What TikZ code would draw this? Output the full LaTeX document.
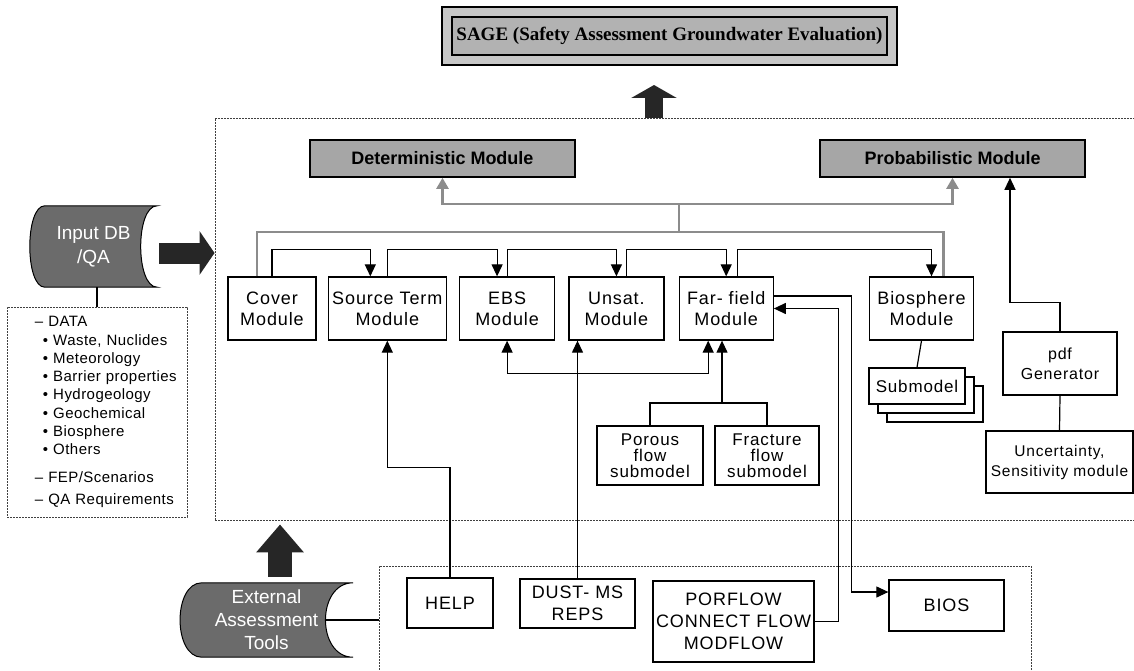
\documentclass[tikz,border=0pt]{standalone}
\usepackage{fontspec}
\setmainfont{Liberation Sans}
\newfontfamily\spaced[LetterSpace=5]{Liberation Sans}
\newfontfamily\listfont[LetterSpace=3]{Liberation Sans}
\newfontfamily\titlefont{Liberation Serif}
\usetikzlibrary{arrows.meta,positioning,fit,backgrounds,calc,shadows}

\tikzset{
  modbox/.style={rectangle, draw=black, line width=1.3pt, fill=white, inner sep=0pt,
                 minimum height=63pt, align=center, font=\spaced\fontsize{18}{21}\selectfont},
  subbox/.style={modbox, font=\spaced\fontsize{17}{16}\selectfont},
  toolbox/.style={modbox, font=\spaced\fontsize{18}{22}\selectfont},
  grybox/.style={rectangle, draw=black, line width=1.6pt, fill=black!35, inner sep=0pt,
                 minimum width=265pt, minimum height=37pt,
                 font=\bfseries\fontsize{18}{20}\selectfont},
  dotframe/.style={rectangle, draw=black!75, line width=0.9pt, dash pattern=on 2pt off 1pt},
  store/.style={rectangle, inner sep=0pt, align=center, text=white,
                font=\fontsize{19}{24}\selectfont},
  ar/.style={-{Triangle[length=12pt,width=11pt]}, line width=1.2pt},
  arboth/.style={{Triangle[length=12pt,width=11pt]}-{Triangle[length=12pt,width=11pt]}, line width=1.2pt},
  ln/.style={line width=1.2pt},
  gry/.style={draw=black!45, line width=2.4pt},
  gryar/.style={gry, -{Triangle[length=11pt,width=12pt,fill=black!45]}},
  fatarrow/.style n args={3}{draw=black!85, line width=#1, -{Triangle[length=#2,width=#3]}},
}

\begin{document}
\begin{tikzpicture}[x=1pt,y=-1pt]
  \clip (0,0) rectangle (1134,671);

  % ============ frames ============
  \node[dotframe, minimum width=922pt, minimum height=402pt] (core) at (676,319) {};
  \node[dotframe, minimum width=652pt, minimum height=124pt] (tools) at (705,628) {};

  % ============ top: SAGE and its two modules ============
  \node[rectangle, draw=black, line width=1.6pt, fill=black!30, inner sep=0pt,
        minimum width=435pt, minimum height=38pt,
        font=\titlefont\bfseries\fontsize{19}{21}\selectfont] (sage) at (669.5,36)
    {SAGE (Safety Assessment Groundwater Evaluation)};
  \coordinate (sagein) at (654,85);
  \draw[fatarrow={18pt}{13pt}{45pt}] (core.north -| sagein) -- (sagein);

  \node[grybox] (det) at (442.5,158.5) {Deterministic Module};
  \node[grybox] (prob) at (952.5,158.5) {Probabilistic Module};

  % ============ module row ============
  \node[modbox, minimum width=88pt] (cover) at (272,308.5) {Cover\\Module};
  \node[modbox, minimum width=118pt, right=11pt of cover] (src) {Source Term\\Module};
  \node[modbox, minimum width=95pt, right=12pt of src] (ebs) {EBS\\Module};
  \node[modbox, minimum width=95pt, right=13pt of ebs] (unsat) {Unsat.\\Module};
  \node[modbox, minimum width=94pt, right=14pt of unsat] (far) {Far- field\\Module};
  \node[modbox, minimum width=104pt, right=95pt of far] (bio) {Biosphere\\Module};

  \draw[ar] (cover.north) -- ++(0,-27) -| ($(src.north)+(-17,0)$);
  \draw[ar] (src.north) -- ++(0,-27) -| ($(ebs.north)+(-10,0)$);
  \draw[ar] (ebs.north) -- ++(0,-27) -| (unsat.north);
  \draw[ar] ($(unsat.north)+(10,0)$) -- ++(0,-27) -| (far.north);
  \draw[ar] ($(far.north)+(11,0)$) -- ++(0,-27) -| ($(bio.north)+(10,0)$);

  % grey bus up to the two modules
  \coordinate (gbus) at (679,232);
  \draw[gry] ($(cover.north)+(-15,0)$) |- (gbus) -| ($(bio.north)+(22,0)$);
  \draw[gryar] (gbus) -- ++(0,-28) -| (det.south);
  \draw[gryar] (gbus) -- ++(0,-28) -| (prob.south);

  % ============ submodels ============
  \node[subbox, minimum width=106pt, minimum height=59pt] (porous) at (650,455.5)
    {Porous\\flow\\submodel};
  \node[subbox, minimum width=104pt, minimum height=59pt] (fract) at (767,455.5)
    {Fracture\\flow\\submodel};
  \coordinate (subjoin) at (722,403);
  \draw[ln] (porous.north) |- (subjoin) -| (fract.north);
  \draw[ar] (subjoin) -- (subjoin |- far.south);
  \draw[arboth] (ebs.south) -- ++(0,33) -| ($(far.south)+(-18,0)$);

  \node[modbox, minimum width=96pt, minimum height=36pt,
        font=\spaced\fontsize{17}{19}\selectfont,
        double copy shadow={shadow xshift=9pt, shadow yshift=-9pt}] (sub) at (917,386)
    {Submodel};
  \draw[ln] (bio.south) -- (sub.north);

  \node[modbox, minimum width=114pt, font=\spaced\fontsize{16}{20}\selectfont] (pdf)
    at (1060,363.5) {pdf\\Generator};
  \node[modbox, minimum width=147pt, minimum height=62pt,
        font=\spaced\fontsize{15.5}{20}\selectfont] (unc) at (1059.5,462)
    {Uncertainty,\\Sensitivity module};
  \draw[ar] (pdf.north) -- ++(0,-29) -| ($(prob.south)+(57.5,0)$);
  \draw[ln] (pdf.south) -- (unc.north);

  % ============ input database ============
  \node[store, minimum width=127pt, minimum height=81pt] (indb) at (93.5,246.5)
    {Input DB\\/QA};
  \draw[fatarrow={21pt}{15pt}{43pt}] ($(indb.east)+(2,6.5)$) -- ($(indb.east -| core.west)+(0,6.5)$);

  \node[dotframe, minimum width=180pt, minimum height=210pt, inner xsep=4pt,
        text width=172pt, align=left, font=\listfont\fontsize{15}{18.3}\selectfont] (data)
    at (97,412)
    {\hspace*{24pt}– DATA\\
     \hspace*{32pt}• Waste, Nuclides\\
     \hspace*{32pt}• Meteorology\\
     \hspace*{32pt}• Barrier properties\\
     \hspace*{32pt}• Hydrogeology\\
     \hspace*{32pt}• Geochemical\\
     \hspace*{32pt}• Biosphere\\
     \hspace*{32pt}• Others\\[9pt]
     \hspace*{24pt}– FEP/Scenarios\\[4pt]
     \hspace*{24pt}– QA Requirements};
  \draw[ln] (data.north) -- (data.north |- indb.south);

  % ============ external tools ============
  \node[store, minimum width=173pt, minimum height=74pt, font=\fontsize{19}{23}\selectfont] (ext)
    at (266.5,620) {External\\Assessment\\Tools};
  \draw[fatarrow={24pt}{28pt}{46pt}] ($(ext.north)+(13.5,-6)$) -- ($(ext.north |- core.south)+(13.5,4)$);
  \draw[ln] ($(ext.east)+(-28,0)$) -- (ext.east -| tools.west);

  \node[toolbox, minimum width=86pt, minimum height=50pt] (help) at (450,603) {HELP};
  \node[toolbox, minimum width=115pt, minimum height=49pt] (dust) at (577.5,603.5)
    {DUST- MS\\REPS};
  \node[toolbox, minimum width=161pt, minimum height=81pt] (porflow) at (733.5,621.5)
    {PORFLOW\\CONNECT FLOW\\MODFLOW};
  \node[toolbox, minimum width=115pt, minimum height=51pt] (bios) at (946.5,605.5) {BIOS};

  \draw[ar] (help.north) -- ++(0,-110) -| (src.south);
  \draw[ar] (dust.north) -- (dust.north |- unsat.south);
  \draw[ar] (porflow.east) -- ++(24,0) |- (far.east);
  \draw[ar] ($(far.east)+(0,-12.5)$) -| ($(bios.west)+(-37,-13.5)$) -- ($(bios.west)+(0,-13.5)$);

  % shapes behind the texts
  \begin{scope}[on background layer]
    \node[fit=(sage), inner xsep=9pt, inner ysep=9pt, draw=black, line width=1.8pt,
          fill=black!22] (sageframe) {};
    \filldraw[fill=black!58, draw=black, line width=1pt]
      ($(indb.north west)+(15,0)$) -- (indb.north east)
      .. controls ($(indb.north east)+(-22,0)$) and ($(indb.south east)+(-22,0)$) .. (indb.south east)
      -- ($(indb.south west)+(15,0)$)
      .. controls ($(indb.south west)+(-5,0)$) and ($(indb.north west)+(-5,0)$) .. cycle;
    \filldraw[fill=black!58, draw=black, line width=1pt]
      ($(ext.north west)+(22,0)$) -- (ext.north east)
      .. controls ($(ext.north east)+(-37,0)$) and ($(ext.south east)+(-37,0)$) .. (ext.south east)
      -- ($(ext.south west)+(22,0)$)
      .. controls ($(ext.south west)+(-7,0)$) and ($(ext.north west)+(-7,0)$) .. cycle;
  \end{scope}

\end{tikzpicture}
\end{document}
